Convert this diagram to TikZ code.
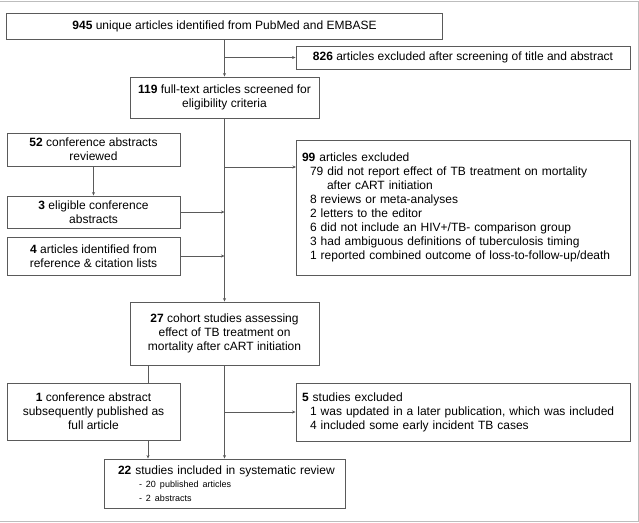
\documentclass[tikz,border=0pt]{standalone}
\usepackage{fontspec}
\setmainfont{Liberation Sans}
\usetikzlibrary{arrows.meta}

\begin{document}
\begin{tikzpicture}[x=1pt,y=-1pt,font=\fontsize{12}{14}\selectfont,
  box/.style={draw=linegray,line width=0.9pt,inner sep=0pt,align=center},
  leftbox/.style={box,align=left,inner xsep=6pt},
  arr/.style={draw=linegray,line width=0.9pt,-{Stealth[length=3.5pt,width=3pt]}},
  link/.style={draw=linegray,line width=0.9pt}]
\definecolor{linegray}{HTML}{5A5A5A}
\definecolor{framegray}{HTML}{BDBDBD}
\useasboundingbox (0,0) rectangle (639,522);
\draw[framegray] (0,1.5) -- (638,1.5) -- (638,521) -- (0,521);
\node[box,minimum width=436pt,minimum height=26pt] (ident) at (224.5,26) {\textbf{945} unique articles identified from PubMed and EMBASE};
\node[box,minimum width=334pt,minimum height=23pt] (screenex) at (463,57.5) {\textbf{826} articles excluded after screening of title and abstract};
\node[box,minimum width=189pt,minimum height=41pt] (fulltext) at (224.5,97.5) {\textbf{119} full-text articles screened for\\eligibility criteria};
\node[box,minimum width=173pt,minimum height=33pt] (confrev) at (93.5,149.5) {\textbf{52} conference abstracts\\reviewed};
\node[box,minimum width=173pt,minimum height=32pt] (confelig) at (93.5,212) {\textbf{3} eligible conference\\abstracts};
\node[box,minimum width=173pt,minimum height=38pt] (reflist) at (93.5,256) {\textbf{4} articles identified from\\reference \& citation lists};
\node[leftbox,text width=322pt,minimum height=135pt] (fullex) at (463,207.5) {\textbf{99} articles excluded\\
\hspace*{8pt}79 did not report effect of TB treatment on mortality\\
\hspace*{25pt}after cART initiation\\
\hspace*{8pt}8 reviews or meta-analyses\\
\hspace*{8pt}2 letters to the editor\\
\hspace*{8pt}6 did not include an HIV+/TB- comparison group\\
\hspace*{8pt}3 had ambiguous definitions of tuberculosis timing\\
\hspace*{8pt}1 reported combined outcome of loss-to-follow-up/death};
\node[box,minimum width=189pt,minimum height=63pt] (cohort) at (224.5,333.5) {\textbf{27} cohort studies assessing\\effect of TB treatment on\\mortality after cART initiation};
\node[box,minimum width=173pt,minimum height=57pt] (pubfull) at (93.5,411.5) {\textbf{1} conference abstract\\subsequently published as\\full article};
\node[leftbox,text width=322pt,minimum height=58pt] (studex) at (463,412) {\textbf{5} studies excluded\\
\hspace*{8pt}1 was updated in a later publication, which was included\\
\hspace*{8pt}4 included some early incident TB cases};
\node[leftbox,inner xsep=8pt,text width=225pt,minimum height=49pt] (incl) at (224.5,483.5) {\hspace*{6pt}\textbf{22} studies included in systematic review\\[3pt]
\fontsize{9}{10}\selectfont\hspace*{27pt}- 20 published articles\\
\hspace*{27pt}- 2 abstracts};
\coordinate (fullin) at (296,167);
\coordinate (sideline) at (148,365);
\draw[arr] (ident) -- (fulltext);
\draw[arr] (ident.south |- screenex.west) -- (screenex.west);
\draw[arr] (fulltext) -- (cohort);
\draw[arr] (fulltext.south |- fullin) -- (fullin);
\draw[arr] (confrev) -- (confelig);
\draw[arr] (confelig.east) -- (confelig.east -| fulltext.south);
\draw[arr] (reflist.east) -- (reflist.east -| fulltext.south);
\draw[link] (sideline) -- (sideline |- pubfull.north);
\draw[arr] (sideline |- pubfull.south) -- (sideline |- incl.north);
\draw[arr] (cohort) -- (incl);
\draw[arr] (cohort.south |- studex.west) -- (studex.west);
\end{tikzpicture}
\end{document}
